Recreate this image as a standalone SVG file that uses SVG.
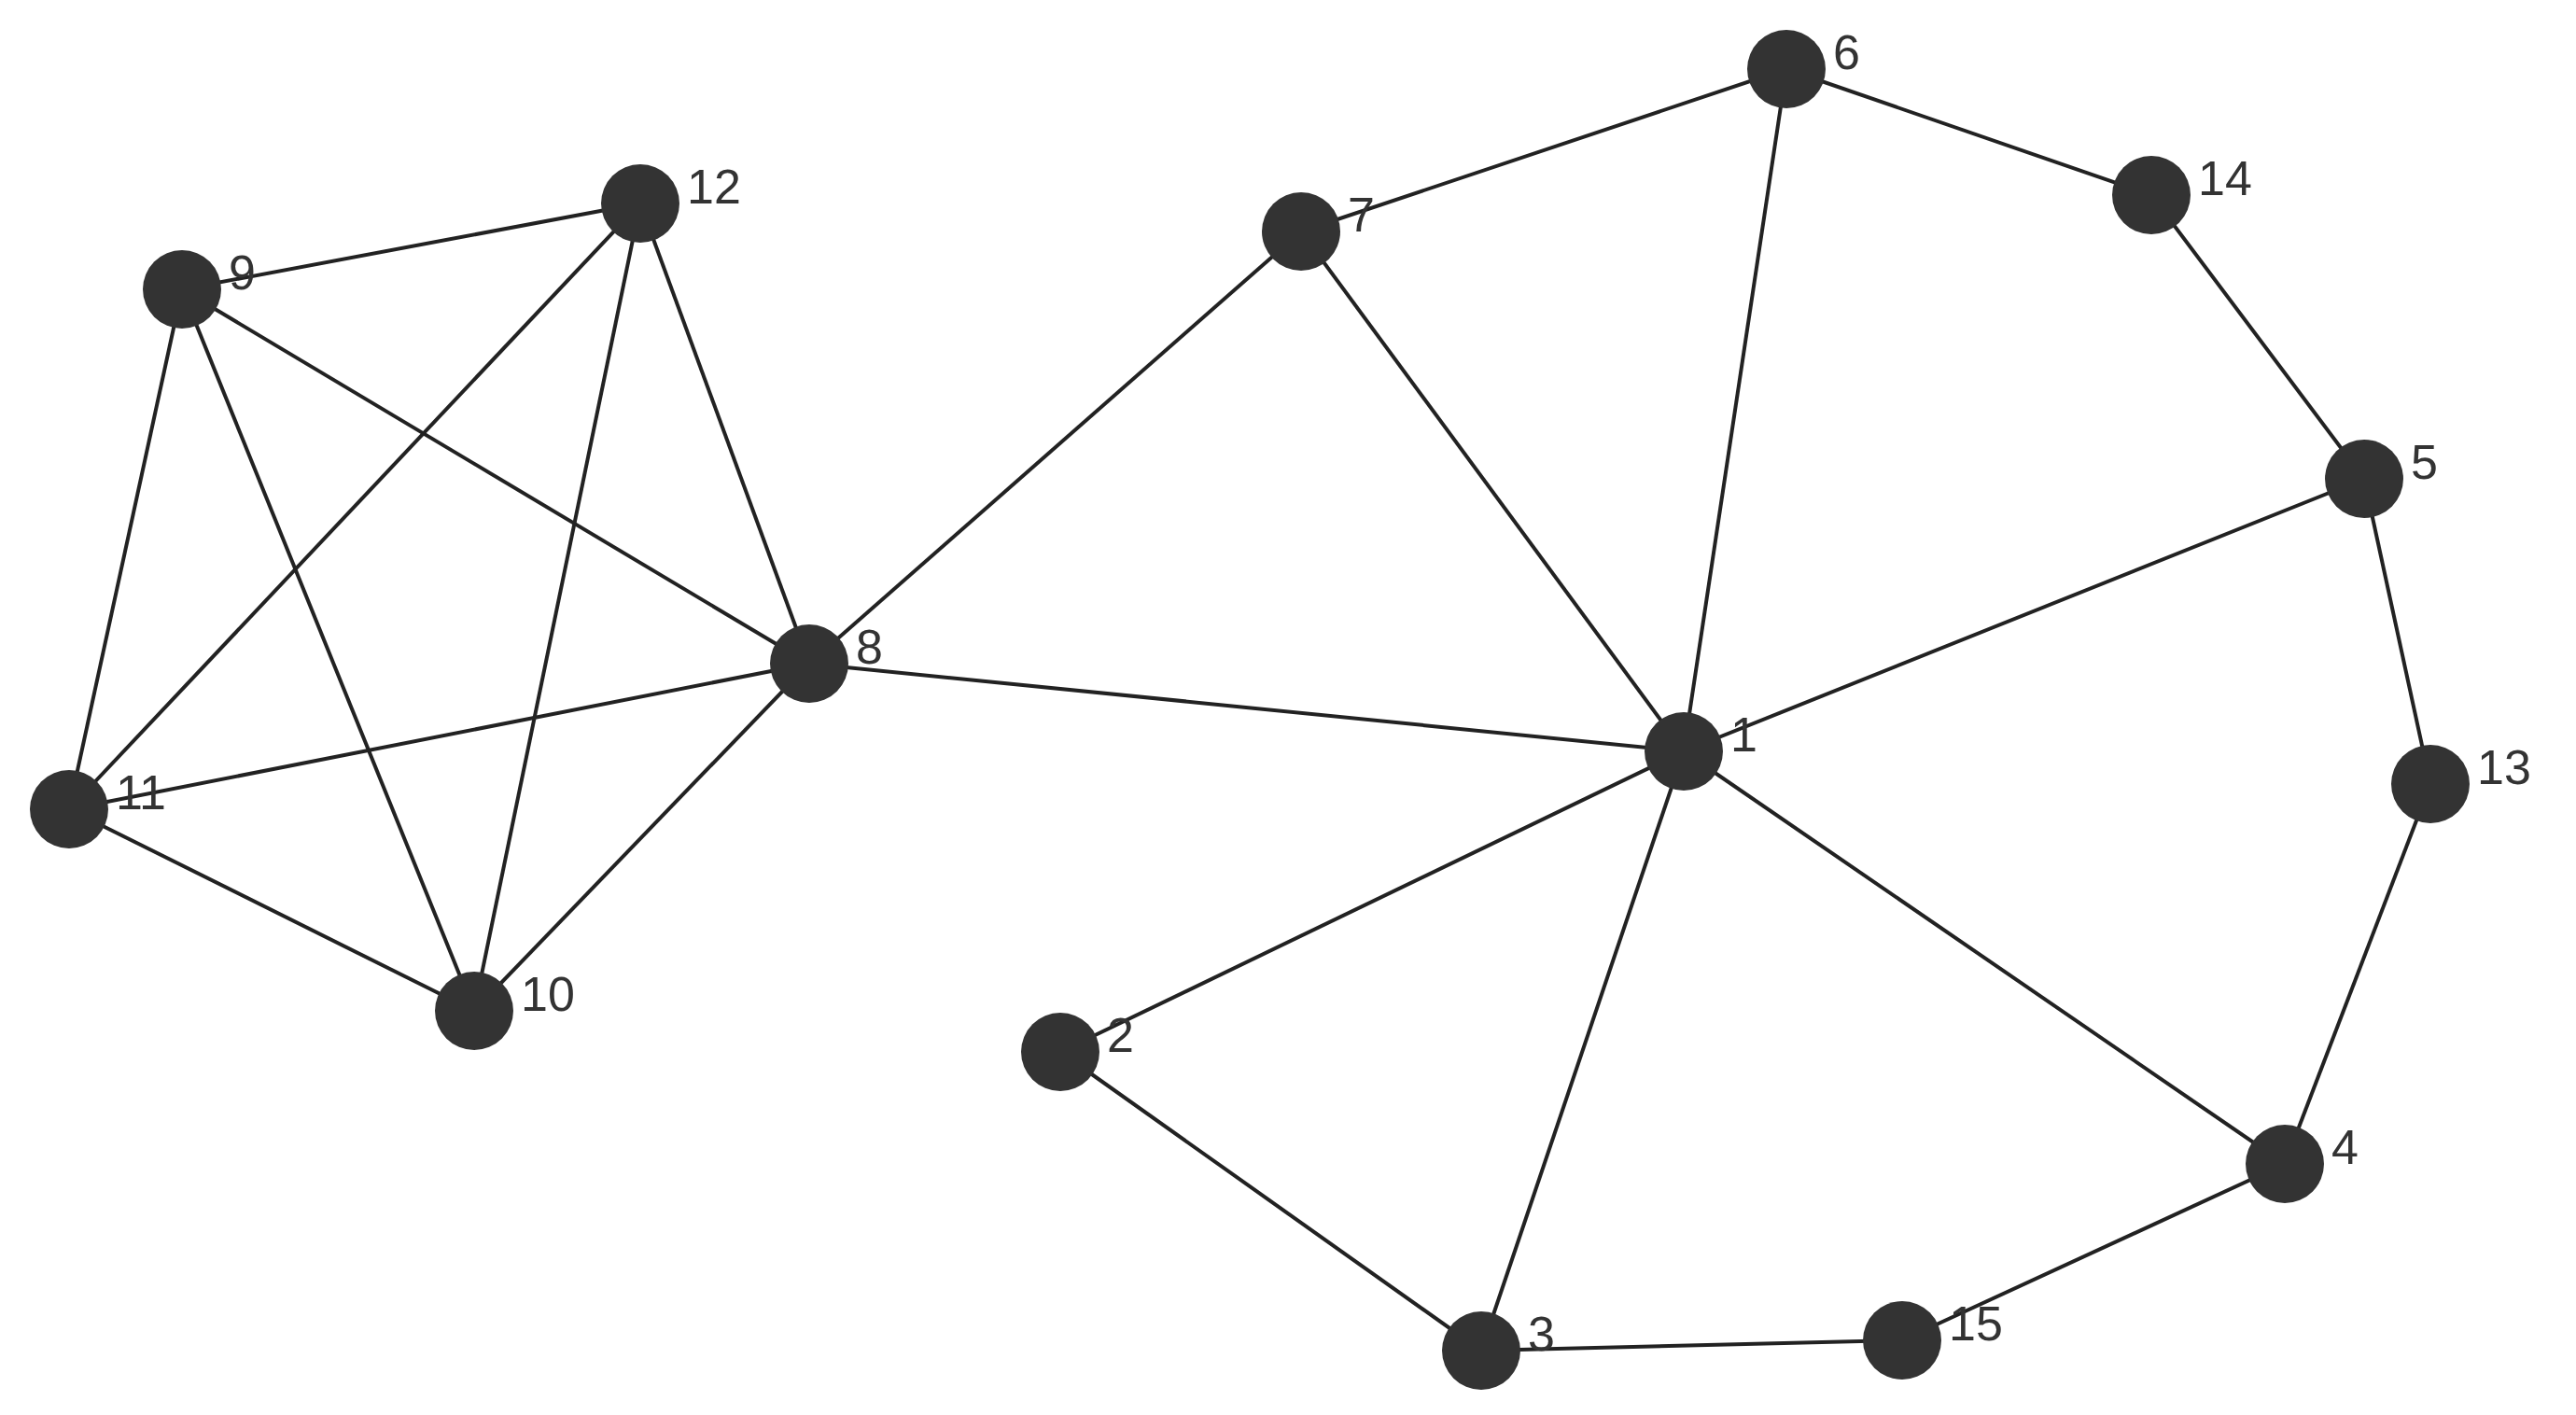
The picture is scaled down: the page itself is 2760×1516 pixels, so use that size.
<svg xmlns="http://www.w3.org/2000/svg" width="2760" height="1516" viewBox="0 0 2760 1516">
<style>
.e line{stroke:#222;stroke-width:4}
.n circle{fill:#333}
.n text{font-family:"Liberation Sans",Arial,sans-serif;font-size:52px;fill:#333}
</style>
<rect width="2760" height="1516" fill="#fff"/>
<g id="edges" class="e">
<line x1="195" y1="310" x2="686" y2="218"/>
<line x1="195" y1="310" x2="74" y2="867"/>
<line x1="195" y1="310" x2="508" y2="1083"/>
<line x1="195" y1="310" x2="867" y2="711"/>
<line x1="686" y1="218" x2="74" y2="867"/>
<line x1="686" y1="218" x2="508" y2="1083"/>
<line x1="686" y1="218" x2="867" y2="711"/>
<line x1="74" y1="867" x2="867" y2="711"/>
<line x1="74" y1="867" x2="508" y2="1083"/>
<line x1="508" y1="1083" x2="867" y2="711"/>
<line x1="867" y1="711" x2="1394" y2="248"/>
<line x1="867" y1="711" x2="1804" y2="805"/>
<line x1="1394" y1="248" x2="1914" y2="74"/>
<line x1="1394" y1="248" x2="1804" y2="805"/>
<line x1="1914" y1="74" x2="1804" y2="805"/>
<line x1="1914" y1="74" x2="2305" y2="209"/>
<line x1="2305" y1="209" x2="2533" y2="513"/>
<line x1="2533" y1="513" x2="1804" y2="805"/>
<line x1="2533" y1="513" x2="2604" y2="840"/>
<line x1="2604" y1="840" x2="2448" y2="1247"/>
<line x1="2448" y1="1247" x2="1804" y2="805"/>
<line x1="2448" y1="1247" x2="2038" y2="1436"/>
<line x1="2038" y1="1436" x2="1587" y2="1447"/>
<line x1="1587" y1="1447" x2="1804" y2="805"/>
<line x1="1587" y1="1447" x2="1136" y2="1127"/>
<line x1="1136" y1="1127" x2="1804" y2="805"/>
</g>
<g id="n1" class="n"><circle cx="1804" cy="805" r="42"/><text x="1854" y="805">1</text></g>
<g id="n2" class="n"><circle cx="1136" cy="1127" r="42"/><text x="1186" y="1127">2</text></g>
<g id="n3" class="n"><circle cx="1587" cy="1447" r="42"/><text x="1637" y="1447">3</text></g>
<g id="n4" class="n"><circle cx="2448" cy="1247" r="42"/><text x="2498" y="1247">4</text></g>
<g id="n5" class="n"><circle cx="2533" cy="513" r="42"/><text x="2583" y="513">5</text></g>
<g id="n6" class="n"><circle cx="1914" cy="74" r="42"/><text x="1964" y="74">6</text></g>
<g id="n7" class="n"><circle cx="1394" cy="248" r="42"/><text x="1444" y="248">7</text></g>
<g id="n8" class="n"><circle cx="867" cy="711" r="42"/><text x="917" y="711">8</text></g>
<g id="n9" class="n"><circle cx="195" cy="310" r="42"/><text x="245" y="310">9</text></g>
<g id="n10" class="n"><circle cx="508" cy="1083" r="42"/><text x="558" y="1083">10</text></g>
<g id="n11" class="n"><circle cx="74" cy="867" r="42"/><text x="124" y="867">11</text></g>
<g id="n12" class="n"><circle cx="686" cy="218" r="42"/><text x="736" y="218">12</text></g>
<g id="n13" class="n"><circle cx="2604" cy="840" r="42"/><text x="2654" y="840">13</text></g>
<g id="n14" class="n"><circle cx="2305" cy="209" r="42"/><text x="2355" y="209">14</text></g>
<g id="n15" class="n"><circle cx="2038" cy="1436" r="42"/><text x="2088" y="1436">15</text></g>
</svg>
